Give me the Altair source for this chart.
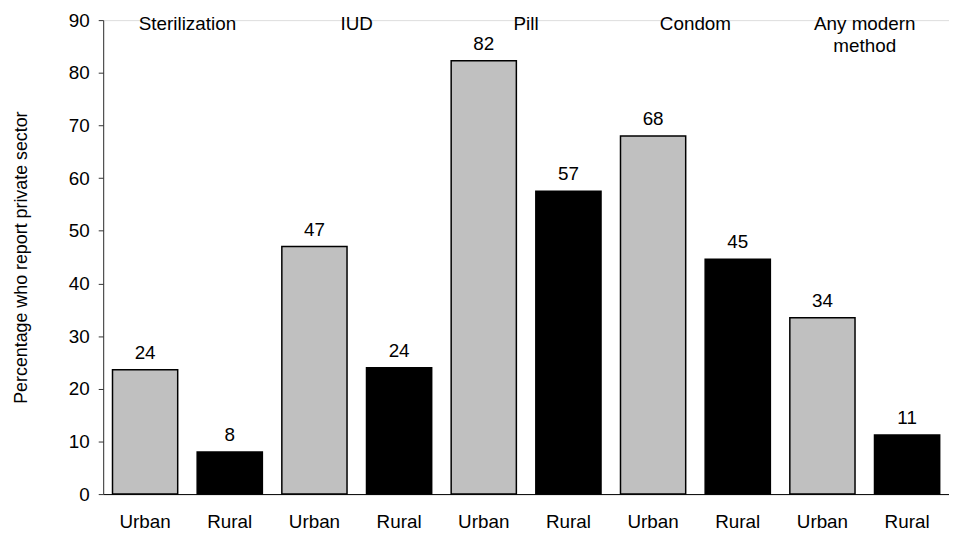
import altair as alt
import pandas as pd

methods = ["Sterilization", "IUD", "Pill", "Condom", "Any modern method"]
residence = ["Urban", "Rural"]
values = [23.6, 8.0, 47.0, 24.0, 82.3, 57.5, 68.0, 44.6, 33.5, 11.2]
labels = ["24", "8", "47", "24", "82", "57", "68", "45", "34", "11"]
headers = ["Sterilization", "IUD", "Pill", "Condom", "Any modern\nmethod"]
y_ticks = [0, 10, 20, 30, 40, 50, 60, 70, 80, 90]

rows = []
i = 0
for m in methods:
    for r in residence:
        rows.append({"id": f"{m}|{r}", "method": m, "residence": r,
                     "value": values[i], "label": labels[i]})
        i += 1
df = pd.DataFrame(rows)
hdf = pd.DataFrame({"id": [f"{m}|Urban" for m in methods], "header": headers})
order = list(df["id"])

FONT = "Liberation Sans"
FS = 19
W = 853
PI, PO = 0.23, 0.11
STEP = W / (10 - PI + 2 * PO)

x = alt.X("id:N", sort=order, title=None,
          scale=alt.Scale(paddingInner=PI, paddingOuter=PO),
          axis=alt.Axis(labelExpr="split(datum.label, '|')[1]", labelAngle=0,
                        ticks=False, labelPadding=19, labelFontSize=FS,
                        labelColor="#000", labelFont=FONT, domainColor="#000",
                        domainWidth=1))
y = alt.Y("value:Q", title="Percentage who report private sector",
          scale=alt.Scale(domain=[0, 90], nice=False, zero=True),
          axis=alt.Axis(values=y_ticks, tickSize=5, labelPadding=9, grid=False,
                        labelFontSize=FS, labelColor="#000", labelFont=FONT,
                        titleFont=FONT, titleFontSize=18, titleFontWeight="normal",
                        titleColor="#000", titlePadding=38, domainColor="#333",
                        tickColor="#333"))

bars = alt.Chart(df).mark_bar(stroke="#000", strokeWidth=1.5).encode(
    x=x, y=y,
    color=alt.Color("residence:N", legend=None,
                    scale=alt.Scale(domain=residence, range=["#C0C0C0", "#000000"])),
)

vals = alt.Chart(df).mark_text(baseline="bottom", dy=-7, fontSize=FS,
                               font=FONT, color="#000").encode(
    x=alt.X("id:N", sort=order), y="value:Q", text="label:N")

heads = alt.Chart(hdf).mark_text(baseline="alphabetic", fontSize=FS, font=FONT,
                                 color="#000", lineBreak="\n", lineHeight=22,
                                 dx=STEP / 2).encode(
    x=alt.X("id:N", sort=order), y=alt.value(10), text="header:N")

chart = alt.layer(bars, vals, heads).properties(
    width=W, height=478,
    autosize=alt.AutoSizeParams(type="none"),
    padding={"left": 96, "top": 10, "right": 0, "bottom": 36},
).configure_view(stroke=None).configure(background="white")

chart.save("out.html", embed_options={"renderer": "svg", "actions": False})
